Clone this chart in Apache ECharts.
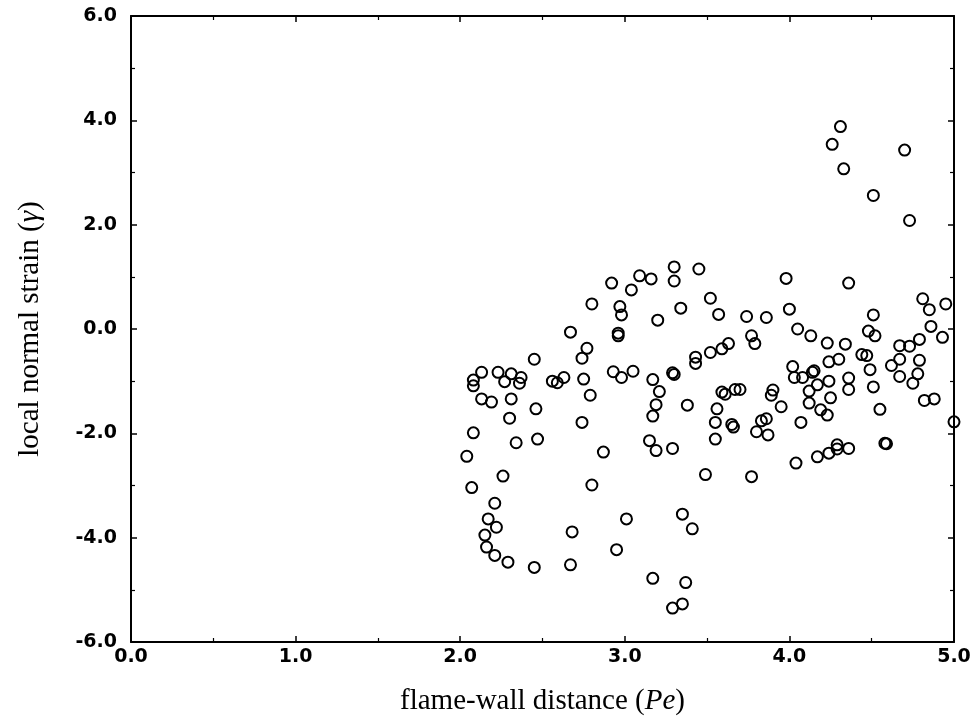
<!DOCTYPE html>
<html><head><meta charset="utf-8">
<script src="https://cdn.jsdelivr.net/npm/echarts@6/dist/echarts.min.js"></script>
<style>html,body{margin:0;padding:0;background:#fff}#c{width:973px;height:726px}</style>
</head><body><div id="c"></div>
<script>
const xValues = [2.80,2.97,2.98,3.20,2.67,2.96,2.96,2.77,2.45,2.74,2.13,2.08,2.08,2.23,2.27,2.31,2.37,2.36,2.56,2.59,2.63,2.75,2.93,2.98,3.05,3.17,3.21,2.13,2.19,2.31,2.46,2.30,2.79,2.74,3.19,3.17,2.08,2.34,2.47,3.15,3.19,2.87,2.04,2.26,2.07,2.80,2.21,2.17,2.22,3.01,2.68,2.15,2.16,2.21,2.29,2.45,2.67,2.95,3.17,
3.52,3.34,3.57,3.74,3.86,4.00,4.05,4.13,3.77,3.79,3.43,3.43,3.52,3.59,3.63,3.29,3.30,4.02,4.03,4.08,4.14,4.15,4.17,4.12,4.12,4.19,3.38,3.56,3.55,3.59,3.61,3.67,3.70,3.66,3.65,3.90,3.89,3.95,3.83,3.86,3.80,3.87,4.07,3.29,3.55,4.04,4.17,3.49,3.77,3.35,3.41,3.37,3.29,3.35,
4.31,4.26,4.33,4.70,4.51,4.73,3.98,4.36,4.81,4.85,4.95,4.51,4.86,4.48,4.52,4.93,4.23,4.34,4.79,4.67,4.73,4.44,4.47,4.24,4.30,4.49,4.62,4.67,4.79,4.24,4.36,4.36,4.67,4.78,4.75,4.51,4.25,4.23,4.55,4.82,4.88,5.00,4.29,4.29,4.24,4.36,4.58,4.59,
2.92,3.04,3.09,3.16,3.30,3.30,3.45];
const yValues = [0.48,0.43,0.27,0.17,-0.06,-0.08,-0.13,-0.37,-0.58,-0.56,-0.83,-0.98,-1.09,-0.83,-1.01,-0.86,-0.93,-1.04,-1.00,-1.03,-0.93,-0.96,-0.82,-0.93,-0.81,-0.97,-1.20,-1.34,-1.40,-1.34,-1.53,-1.71,-1.27,-1.79,-1.45,-1.67,-1.99,-2.18,-2.11,-2.14,-2.33,-2.36,-2.44,-2.82,-3.04,-2.99,-3.34,-3.64,-3.80,-3.64,-3.89,-3.95,-4.18,-4.34,-4.47,-4.57,-4.52,-4.23,-4.78,
0.59,0.40,0.28,0.24,0.22,0.38,0.00,-0.13,-0.13,-0.28,-0.54,-0.66,-0.45,-0.38,-0.28,-0.84,-0.87,-0.72,-0.93,-0.93,-0.83,-0.80,-1.07,-1.19,-1.42,-1.55,-1.46,-1.53,-1.79,-1.21,-1.25,-1.16,-1.16,-1.88,-1.83,-1.17,-1.27,-1.49,-1.76,-1.72,-1.97,-2.03,-1.79,-2.29,-2.11,-2.57,-2.45,-2.79,-2.83,-3.55,-3.83,-4.86,-5.35,-5.27,
3.88,3.54,3.07,3.43,2.56,2.08,0.97,0.88,0.58,0.37,0.48,0.27,0.05,-0.04,-0.13,-0.16,-0.27,-0.29,-0.20,-0.32,-0.33,-0.49,-0.51,-0.63,-0.58,-0.78,-0.70,-0.58,-0.60,-1.00,-0.94,-1.16,-0.91,-0.86,-1.04,-1.11,-1.32,-1.65,-1.54,-1.37,-1.34,-1.78,-2.22,-2.30,-2.38,-2.29,-2.19,-2.20,
0.88,0.75,1.02,0.96,1.19,0.92,1.15];
const xRange = [0, 5];
const yRange = [-6, 6];
const xStep = 1;
const yStep = 2;
const xTitle = '{n|flame-wall distance (}{i|Pe}{n|)}';
const yTitle = '{n|local normal strain (}{i|γ}{n|)}';

const points = xValues.map((x, i) => [x, yValues[i]]);
const chart = echarts.init(document.getElementById('c'), null, {renderer: 'canvas'});
const tickFont = {fontFamily: 'DejaVu Sans', fontWeight: 'bold', fontSize: 19, color: '#000'};
const nameRich = {
  n: {fontFamily: 'Liberation Serif', fontSize: 29, color: '#000'},
  i: {fontFamily: 'Liberation Serif', fontStyle: 'italic', fontSize: 29, color: '#000'}
};
const lineStyle = {color: '#000', width: 2};
function mkX(pos, main) {
  return {
    type: 'value', min: xRange[0], max: xRange[1], interval: xStep, position: pos,
    axisLine: {show: true, onZero: false, lineStyle},
    axisTick: {show: true, inside: true, length: 6, lineStyle: {color: '#000', width: 1.5}},
    minorTick: {show: true, splitNumber: 2, length: 4, lineStyle: {color: '#000', width: 1.2}},
    splitLine: {show: false},
    axisLabel: main ? Object.assign({show: true, margin: 6, formatter: v => v.toFixed(1)}, tickFont) : {show: false},
    name: main ? xTitle : '', nameLocation: 'middle', nameGap: 45,
    nameTextStyle: {rich: nameRich}
  };
}
function mkY(pos, main) {
  return {
    type: 'value', min: yRange[0], max: yRange[1], interval: yStep, position: pos,
    axisLine: {show: true, onZero: false, lineStyle},
    axisTick: {show: true, inside: true, length: 6, lineStyle: {color: '#000', width: 1.5}},
    minorTick: {show: true, splitNumber: 2, length: 4, lineStyle: {color: '#000', width: 1.2}},
    splitLine: {show: false},
    axisLabel: main ? Object.assign({show: true, margin: 14, formatter: v => v.toFixed(1)}, tickFont) : {show: false},
    name: main ? yTitle : '', nameLocation: 'middle', nameGap: 86, nameRotate: 90,
    nameTextStyle: {rich: nameRich}
  };
}
chart.setOption({
  animation: false,
  backgroundColor: '#fff',
  grid: {left: 131, right: 19, top: 16, bottom: 84, containLabel: false, outerBoundsMode: 'none'},
  xAxis: [mkX('bottom', true), mkX('top', false)],
  yAxis: [mkY('left', true), mkY('right', false)],
  series: [{
    type: 'scatter', xAxisIndex: 0, yAxisIndex: 0,
    data: points, symbol: 'circle', symbolSize: 11,
    itemStyle: {color: 'rgba(0,0,0,0)', borderColor: '#000', borderWidth: 2, opacity: 1},
    silent: true
  }]
});
</script></body></html>
